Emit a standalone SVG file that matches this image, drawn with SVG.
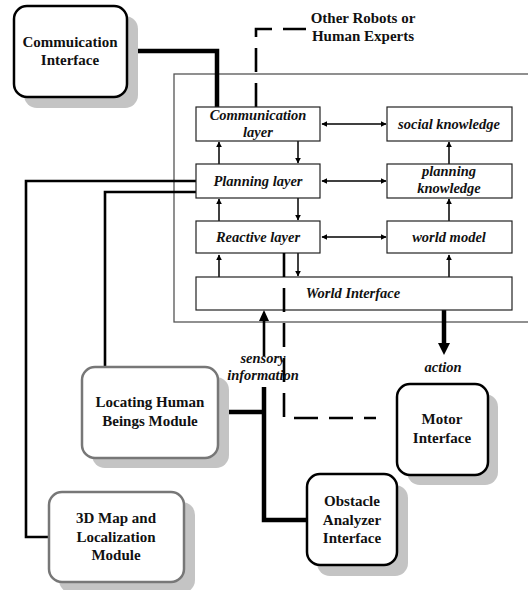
<svg xmlns="http://www.w3.org/2000/svg" width="528" height="590" viewBox="0 0 528 590">
<defs>
<style>
.lay{fill:#fff;stroke:#222;stroke-width:1.2}
.outer{fill:none;stroke:#555;stroke-width:1.3}
.mod{stroke-width:2.5}
.shadow{fill:#c4c4c4}
text{font-family:"Liberation Serif","Times New Roman",serif;font-weight:bold;font-size:15px;text-anchor:middle;fill:#111}
.lt{font-style:italic;font-size:14.5px}
.ar{stroke:#000;stroke-width:1.5;fill:none}
.thick{stroke:#000;stroke-width:4.5;fill:none}
.med{stroke:#000;stroke-width:2.6;fill:none}
.dash{stroke:#000;stroke-width:2.6;fill:none;stroke-dasharray:24 11}
</style>
<marker id="ah" viewBox="0 0 10 10" refX="9" refY="5" markerWidth="6" markerHeight="6" orient="auto-start-reverse" markerUnits="userSpaceOnUse">
<path d="M0,0 L10,5 L0,10 z" fill="#000"/>
</marker>
</defs>

<rect class="outer" x="174" y="74" width="380" height="248"/>

<g id="connectors">
<polyline class="thick" points="127,51 217,51 217,107"/>
<polyline class="dash" points="256,107 256,29 306,29"/>
<polyline class="med" points="196,181 26,181 26,537 49,537"/>
<polyline class="med" points="196,192 105,192 105,368"/>
<polyline class="thick" points="218,412 264,412"/>
<polyline class="thick" points="264,387 264,520 307,520"/>
<line class="med" x1="264" y1="356" x2="264" y2="320"/>
<path d="M264,310 L259,321 L269,321 z" fill="#000"/>
<line class="thick" x1="444" y1="310" x2="444" y2="344"/>
<path d="M444,355 L438,343 L450,343 z" fill="#000"/>
<line class="ar" x1="322" y1="124" x2="386" y2="124" marker-start="url(#ah)" marker-end="url(#ah)"/>
<line class="ar" x1="322" y1="181" x2="386" y2="181" marker-start="url(#ah)" marker-end="url(#ah)"/>
<line class="ar" x1="322" y1="237" x2="386" y2="237" marker-start="url(#ah)" marker-end="url(#ah)"/>
<line class="ar" x1="219" y1="164" x2="219" y2="142" marker-end="url(#ah)"/>
<line class="ar" x1="298" y1="141" x2="298" y2="163" marker-end="url(#ah)"/>
<line class="ar" x1="219" y1="221" x2="219" y2="199" marker-end="url(#ah)"/>
<line class="ar" x1="298" y1="198" x2="298" y2="220" marker-end="url(#ah)"/>
<line class="ar" x1="219" y1="277" x2="219" y2="255" marker-end="url(#ah)"/>
<line class="ar" x1="298" y1="253" x2="298" y2="276" marker-end="url(#ah)"/>
<line class="ar" x1="449" y1="277" x2="449" y2="255" marker-end="url(#ah)"/>
<line class="ar" x1="449" y1="221" x2="449" y2="199" marker-end="url(#ah)"/>
<line class="ar" x1="449" y1="164" x2="449" y2="142" marker-end="url(#ah)"/>
</g>

<g id="comm-layer"><rect class="lay" x="196" y="107" width="124" height="34"/><text class="lt" x="258" y="120">Communication</text><text class="lt" x="258" y="137">layer</text></g>
<g id="social-knowledge"><rect class="lay" x="387" y="107" width="125" height="34"/><text class="lt" x="449" y="129">social knowledge</text></g>
<g id="planning-layer"><rect class="lay" x="196" y="164" width="124" height="34"/><text class="lt" x="258" y="186">Planning layer</text></g>
<g id="planning-knowledge"><rect class="lay" x="387" y="164" width="125" height="34"/><text class="lt" x="449" y="176">planning</text><text class="lt" x="449" y="193">knowledge</text></g>
<g id="reactive-layer"><rect class="lay" x="196" y="221" width="124" height="32"/><text class="lt" x="258" y="242">Reactive layer</text></g>
<g id="world-model"><rect class="lay" x="387" y="221" width="125" height="32"/><text class="lt" x="449" y="242">world model</text></g>
<g id="world-interface"><rect class="lay" x="196" y="277" width="316" height="33"/><text class="lt" x="353" y="298">World Interface</text></g>

<g id="dashed-link"><polyline class="dash" points="284,253 284,418 376,418"/></g>

<g id="comm-interface"><rect class="shadow" x="24" y="16" width="114" height="92" rx="13"/><rect class="mod" x="14" y="6" width="113" height="91" rx="13" fill="#fff" stroke="#000"/><text x="70" y="47">Commuication</text><text x="70" y="65">Interface</text></g>
<g id="other-robots"><text x="363" y="23">Other Robots or</text><text x="363" y="41">Human Experts</text></g>
<g id="locating"><rect class="shadow" x="92" y="377" width="137" height="91" rx="13"/><rect class="mod" x="82" y="367" width="136" height="91" rx="13" fill="#fff" stroke="#777"/><text x="150" y="407">Locating Human</text><text x="150" y="426">Beings Module</text></g>
<g id="map3d"><rect class="shadow" x="59" y="502" width="136" height="91" rx="13"/><rect class="mod" x="49" y="492" width="135" height="90" rx="13" fill="#fff" stroke="#777"/><text x="116" y="523">3D Map and</text><text x="116" y="542">Localization</text><text x="116" y="560">Module</text></g>
<g id="motor"><rect class="shadow" x="407" y="394" width="91" height="91" rx="13"/><rect class="mod" x="397" y="384" width="91" height="91" rx="13" fill="#fff" stroke="#000"/><text x="442" y="424">Motor</text><text x="442" y="443">Interface</text></g>
<g id="obstacle"><rect class="shadow" x="317" y="485" width="91" height="91" rx="13"/><rect class="mod" x="307" y="474" width="90" height="91" rx="13" fill="#fff" stroke="#000"/><text x="352" y="506">Obstacle</text><text x="352" y="525">Analyzer</text><text x="352" y="543">Interface</text></g>
<g id="labels"><text class="lt" x="263" y="363">sensory</text><text class="lt" x="263" y="380">information</text><text class="lt" x="443" y="372">action</text></g>
</svg>
